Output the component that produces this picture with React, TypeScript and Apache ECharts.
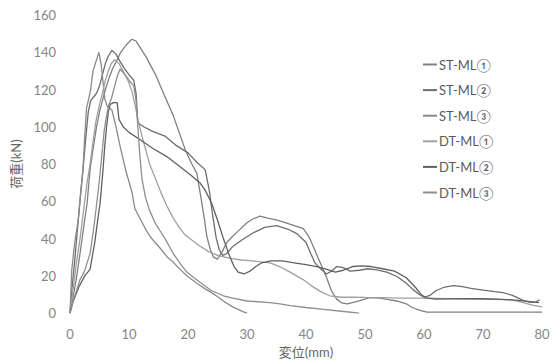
import React, { useEffect, useRef } from "react";
import * as echarts from "echarts";

const seriesNames = ["ST-ML①", "ST-ML②", "ST-ML③", "DT-ML①", "DT-ML②", "DT-ML③"];
const seriesColors = ["#808080", "#6e6e6e", "#8a8a8a", "#a0a0a0", "#606060", "#8e8e8e"];

const xTicks = [0, 10, 20, 30, 40, 50, 60, 70, 80];
const yTicks = [0, 20, 40, 60, 80, 100, 120, 140, 160];

// tall curve, peak ~147 at 10.5
const stMl1: number[][] = [
  [0, 0], [0.5, 8], [1, 17], [1.7, 32], [2.4, 48], [2.9, 59], [3.4, 77], [4, 90], [4.5, 100], [5, 108],
  [5.5, 114], [6, 120], [6.6, 126], [7.2, 131], [8, 136], [8.6, 140], [9.3, 143], [10, 145.5], [10.5, 147],
  [11.2, 146], [12, 142], [13, 137], [13.8, 132], [14.5, 128], [15.3, 122], [16.4, 114], [17.5, 106],
  [18.5, 97], [19.5, 88], [20.5, 81], [21.5, 75], [22.3, 60], [22.8, 50], [23.2, 41], [23.8, 34],
  [24.3, 30], [25, 29], [25.8, 33], [26.6, 38], [27.5, 41], [28.5, 44], [30, 48.5], [31, 50.5],
  [32.2, 52], [33.5, 51], [35, 50], [36.5, 48.5], [38, 47], [39.5, 45.5], [40.5, 41], [41.2, 36],
  [42, 30], [42.7, 25], [43.5, 19], [44.3, 12], [45.2, 7.5], [46, 5.5], [47, 5], [48, 5.8],
  [49, 6.5], [50.8, 8.3], [52.5, 8], [54, 7.2], [55.4, 6.5], [57, 5], [58, 3], [59.3, 1.5],
  [60.5, 0.5], [65, 0.5], [70, 0.5], [75, 0.5], [80, 0.5],
];

// peak ~140 at 7, hump ~47 at 35, late hump ~15 at 65
const stMl2: number[][] = [
  [0, 0], [0.3, 12], [0.8, 28], [1.4, 50], [2.2, 77], [2.7, 95], [3.1, 108], [3.5, 114], [4, 116],
  [4.5, 118], [5, 122], [5.5, 128], [6, 134], [6.5, 138], [7.1, 141], [7.8, 139], [8.5, 135],
  [9.3, 131], [10, 128], [10.8, 125], [11.2, 118], [11.5, 102], [12.5, 100], [14, 97.5], [16.1, 95],
  [18, 90], [20, 86], [21.5, 81], [22.9, 77], [23.6, 66], [24.2, 52], [24.8, 40], [25.3, 34],
  [25.9, 31], [26.6, 32], [27.5, 35.5], [29, 39], [31, 43], [33, 46], [35, 47], [37, 45], [38.5, 42.5],
  [40, 38], [40.8, 32], [41.5, 27], [42.4, 24], [43.5, 21], [44.3, 22.5], [45.2, 25], [46.2, 24.5],
  [47.5, 22.5], [49, 23], [50.5, 23.8], [52, 23.2], [53.7, 22], [55.5, 19.5], [57, 16], [58, 13],
  [59.2, 10], [60, 8.5], [61, 9.5], [62, 12], [63.5, 14], [65, 14.8], [66.5, 14.2], [68, 13.3],
  [70, 12.3], [72, 11.5], [73.4, 11], [75, 9.5], [76.8, 6.8], [78, 5.8], [79, 6], [79.6, 7.2],
];

// early peak ~140 at 4.9, tail to zero at 30
const stMl3: number[][] = [
  [0, 0], [0.3, 23], [0.8, 38], [1.4, 50], [1.8, 65], [2.2, 77], [2.5, 95], [2.8, 110], [3.1, 114],
  [3.5, 120], [3.9, 130], [4.3, 134], [4.6, 137], [4.9, 140], [5.3, 133], [5.6, 124], [5.9, 115],
  [6.3, 111], [7.1, 109], [7.8, 100], [8.6, 88], [9.5, 76], [10.5, 65], [11, 56], [12, 50],
  [13, 44], [13.6, 41], [14.4, 38], [15.5, 34], [16.5, 30], [17.3, 28], [18.5, 24], [19.8, 20],
  [21.5, 16], [22.9, 13], [24, 11], [24.9, 9], [26, 6.5], [27.5, 3.5], [28.5, 2], [29.3, 0.8], [30, 0],
];

// lighter, peak ~136 at 7.6, long gentle tail
const dtMl1: number[][] = [
  [0, 0], [0.5, 12], [1, 25], [1.7, 40], [2.3, 55], [2.9, 70], [3.4, 80], [3.9, 92], [4.4, 103],
  [5, 112], [5.5, 118], [6, 125], [6.5, 130], [7, 134], [7.6, 136], [8.3, 134], [9, 130], [9.8, 125],
  [10.5, 119], [11, 112], [11.5, 104], [12.2, 95], [12.8, 88], [13.5, 80], [14.5, 72], [15.5, 64],
  [16.5, 57], [17.5, 51], [18.5, 46], [19.5, 42], [20.3, 40], [22, 36], [23.5, 33], [25, 31],
  [27, 29.5], [29, 28.5], [31, 28], [33.9, 27], [35.5, 25], [37.3, 22], [39.5, 18], [41, 14.5],
  [42.5, 11.5], [44, 9.3], [46, 8.5], [48, 8.6], [50, 8.4], [53, 8.3], [56, 8], [60, 8], [64, 7.8],
  [68, 7.7], [72, 7.4], [75, 7], [77, 5.5], [78.5, 4.2], [80, 3.3],
];

// dark, plateau ~113 then diagonal fall
const dtMl2: number[][] = [
  [0, 0], [0.5, 6], [1.5, 14], [2.5, 20], [3.4, 23.5], [4.2, 38], [4.7, 50], [5.1, 59], [5.6, 77],
  [5.9, 90], [6.2, 100], [6.5, 108], [6.8, 112], [7.4, 113], [8, 113], [8.3, 104], [9, 100],
  [10, 97], [11.9, 93], [14, 88.5], [16.4, 84], [18.5, 79], [20.5, 74], [22, 70], [22.9, 66],
  [24, 59], [25, 50], [26, 40], [27, 31], [27.8, 25], [28.5, 22], [29.5, 21], [30.5, 22.5],
  [31.5, 25], [32.5, 27], [34, 28], [36, 28], [38, 27], [40, 26], [42, 24.8], [43.5, 23.5],
  [45, 22], [46.3, 23], [47.9, 25], [49.5, 25.3], [51, 25], [53, 23.8], [55, 22.5], [57, 19],
  [58.5, 14], [59.5, 10], [60.5, 8], [62, 7.5], [64, 7.6], [67.8, 7.8], [70, 7.7], [73.4, 7.4],
  [76, 6.8], [78, 6.2], [79.5, 5.6],
];

// light, peak ~131 at 8.5, tail ending at ~49
const dtMl3: number[][] = [
  [0, 0], [0.5, 6], [1, 11], [1.7, 18], [2.4, 22], [3.4, 32], [4, 45], [4.5, 58], [5, 72],
  [5.4, 85], [5.8, 98], [6.2, 106], [6.6, 112], [7, 115], [7.5, 121], [8, 127], [8.5, 131],
  [9.3, 128], [10, 125], [10.8, 122], [11.2, 114], [11.5, 100], [11.8, 86], [12.2, 72],
  [12.8, 62], [13.5, 55], [14.5, 48], [15.5, 43], [16.1, 40], [17.5, 32], [18.8, 26],
  [19.8, 22], [21, 19], [22.5, 15.5], [24, 12], [26, 9.3], [27.6, 8], [30, 6.5], [33.9, 5.6],
  [35.6, 5], [37.3, 4], [40, 3], [43, 2], [46, 1], [49, 0],
];

const seriesData = [stMl1, stMl2, stMl3, dtMl1, dtMl2, dtMl3];

const FONT = "Lato, 'Noto Sans CJK JP', 'Noto Sans', sans-serif";

export default function App() {
  const ref = useRef<HTMLDivElement>(null);
  useEffect(() => {
    document.body.style.margin = "0";
    if (!ref.current) return;
    const chart = echarts.init(ref.current, undefined, { renderer: "svg" });
    chart.setOption({
      animation: false,
      backgroundColor: "#ffffff",
      textStyle: { fontFamily: FONT },
      grid: { left: 70, right: 16, top: 15, bottom: 49 },
      legend: {
        orient: "vertical",
        left: 418,
        top: 53,
        itemWidth: 14,
        itemHeight: 2,
        itemGap: 12.6,
        icon: "rect",
        data: seriesNames,
        textStyle: { color: "#5a5a5a", fontSize: 13, fontFamily: FONT, padding: [0, 0, 0, -3] },
      },
      xAxis: {
        type: "value",
        min: xTicks[0],
        max: xTicks[xTicks.length - 1],
        interval: 10,
        name: "変位(mm)",
        nameLocation: "middle",
        nameGap: 30,
        nameTextStyle: { color: "#666", fontSize: 13, fontFamily: FONT },
        axisLine: { show: false },
        axisTick: { show: false },
        splitLine: { show: false },
        axisLabel: { color: "#858585", fontSize: 13, margin: 14, fontFamily: FONT },
      },
      yAxis: {
        type: "value",
        min: yTicks[0],
        max: yTicks[yTicks.length - 1],
        interval: 20,
        name: "荷重(kN)",
        nameLocation: "middle",
        nameGap: 39,
        nameTextStyle: { color: "#666", fontSize: 13, fontFamily: FONT },
        axisLine: { show: false },
        axisTick: { show: false },
        splitLine: { show: false },
        axisLabel: { color: "#858585", fontSize: 13, margin: 14, fontFamily: FONT },
      },
      series: seriesNames.map((name, i) => ({
        name,
        type: "line",
        data: seriesData[i],
        showSymbol: false,
        symbol: "none",
        color: seriesColors[i],
        lineStyle: { width: 1.3, color: seriesColors[i] },
      })),
    });
    return () => chart.dispose();
  }, []);
  return <div ref={ref} style={{ width: 558, height: 363 }} />;
}
